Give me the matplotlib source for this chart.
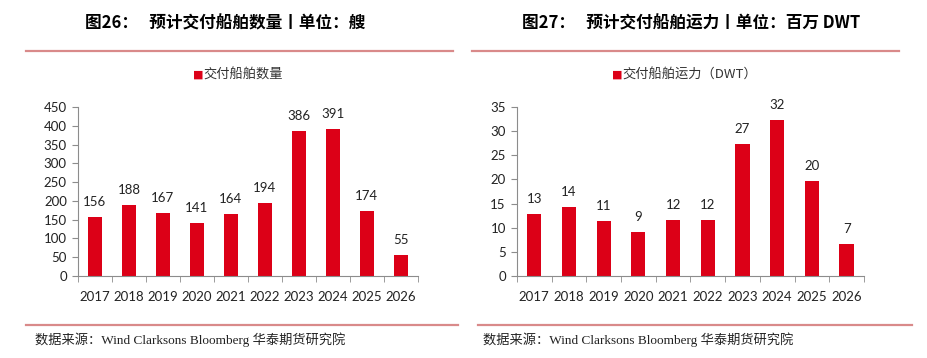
import matplotlib
matplotlib.use("Agg")
import matplotlib.pyplot as plt
import numpy as np
from matplotlib.lines import Line2D

years = ["2017", "2018", "2019", "2020", "2021", "2022", "2023", "2024", "2025", "2026"]
ship_count = [156, 188, 167, 141, 164, 194, 386, 391, 174, 55]
ship_dwt = [12.75, 14.2, 11.4, 9.2, 11.7, 11.7, 27.4, 32.3, 19.6, 6.6]

title_left = "图26：   预计交付船舶数量丨单位：艘"
title_right = "图27：   预计交付船舶运力丨单位：百万 DWT"
legend_left = "交付船舶数量"
legend_right = "交付船舶运力（DWT）"
source_text = "数据来源：Wind Clarksons Bloomberg 华泰期货研究院"

BAR_COLOR = "#DC0017"
LINE_COLOR = "#D98A8A"
AXIS_COLOR = "#8C8C8C"
TICK_FONT = ["Lato", "DejaVu Sans"]
CJK = ["Noto Sans CJK SC", "DejaVu Sans"]

fig = plt.figure(figsize=(9.28, 3.58), dpi=100)


def draw_panel(rect, values, ymax, ystep, labels):
    ax = fig.add_axes(rect)
    x = np.arange(len(years))
    ax.bar(x, values, width=0.41, color=BAR_COLOR)
    ax.set_xlim(-0.5, len(years) - 0.5)
    ax.set_ylim(0, ymax)
    ax.set_yticks(np.arange(0, ymax + ystep / 2, ystep))
    ax.set_xticks(x)
    ax.set_xticklabels(years)
    ax.set_xticks(np.arange(-0.5, len(years), 1), minor=True)
    ax.tick_params(axis="x", which="major", length=0, pad=11)
    ax.tick_params(axis="x", which="minor", length=4, color=AXIS_COLOR)
    ax.tick_params(axis="y", length=4, color=AXIS_COLOR, pad=4)
    for lab in ax.get_xticklabels() + ax.get_yticklabels():
        lab.set_family(TICK_FONT)
        lab.set_fontsize(9.5)
        lab.set_color("#222222")
    for s in ["top", "right"]:
        ax.spines[s].set_visible(False)
    for s in ["left", "bottom"]:
        ax.spines[s].set_color(AXIS_COLOR)
    for xi, v, t in zip(x, values, labels):
        ax.annotate(t, (xi, v), xytext=(0, 6.5), textcoords="offset points",
                    ha="center", va="bottom", fontsize=9.5,
                    family=TICK_FONT, color="#222222")
    return ax


draw_panel([0.084, 0.229, 0.366, 0.472], ship_count, 450, 50,
           [str(v) for v in ship_count])
draw_panel([0.557, 0.229, 0.374, 0.472], ship_dwt, 35, 5,
           [f"{v:.0f}" for v in ship_dwt])

# titles
fig.text(0.243, 0.935, title_left, ha="center", va="center", fontsize=12,
         fontweight="bold", family=CJK)
fig.text(0.745, 0.935, title_right, ha="center", va="center", fontsize=12,
         fontweight="bold", family=CJK)

# separator lines
for x0, x1, y in [(26, 453, 51), (472, 899, 51), (26, 458, 325), (478, 912, 325)]:
    fig.add_artist(Line2D([x0 / 928, x1 / 928], [1 - y / 358, 1 - y / 358],
                          color=LINE_COLOR, lw=1.6))

# legends
for xl, txt in [(193, legend_left), (612, legend_right)]:
    fig.text(xl / 928, 1 - 75 / 358, "■", color=BAR_COLOR, fontsize=8,
             ha="left", va="center", family=["DejaVu Sans"])
    fig.text((xl + 10) / 928, 1 - 75 / 358, txt, color="#333333", fontsize=9.5,
             ha="left", va="center", family=CJK)

# source notes
for xs in [35, 483]:
    fig.text(xs / 928, 1 - 340 / 358, source_text, ha="left", va="center",
             fontsize=9.5, color="#222222",
             family=["Liberation Serif", "Noto Sans CJK SC"])

fig.savefig("out.png", dpi=100)
